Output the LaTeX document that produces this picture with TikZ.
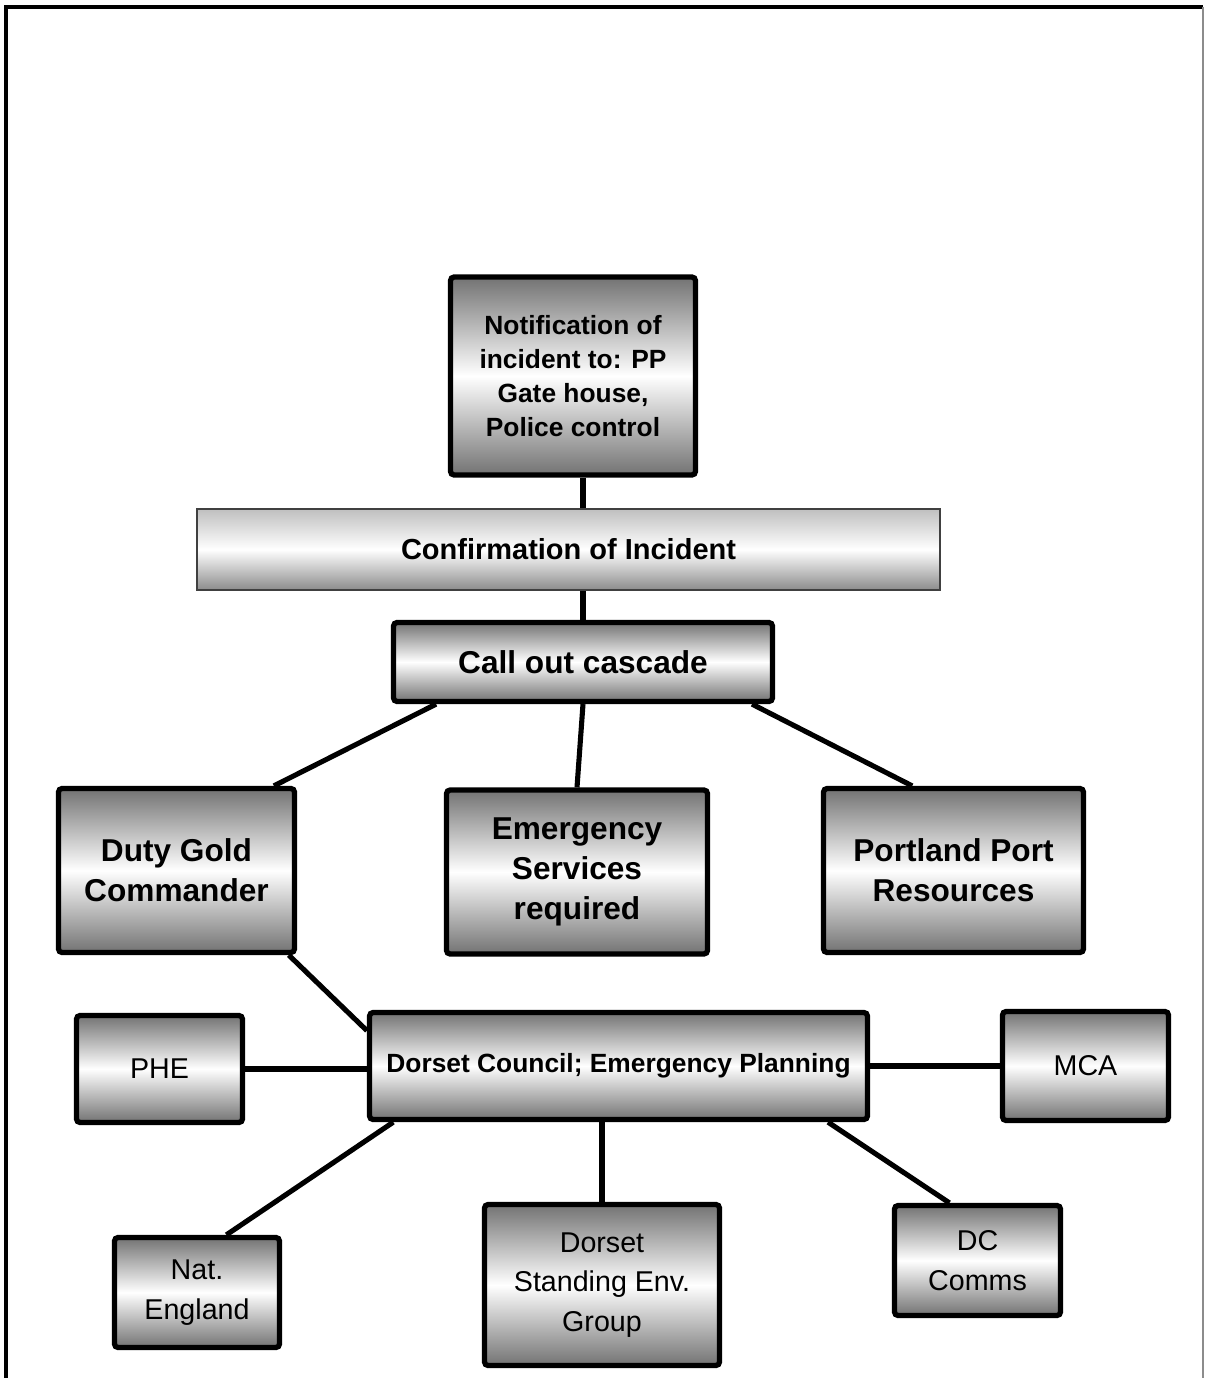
\documentclass[tikz,border=0pt]{standalone}
\usepackage{fontspec}
\setmainfont{Liberation Sans}
\usepackage{tikz}
\usetikzlibrary{calc}

\begin{document}
\begin{tikzpicture}[
  x=0.02cm, y=-0.02cm,
  box/.style={draw, line width=3pt, rounded corners=2pt, align=center, inner sep=2pt,
              top color=black!55, bottom color=black!55, middle color=white},
  bigbox/.style={box, font=\fontsize{18}{22.7}\selectfont\bfseries},
  smallbox/.style={box, font=\fontsize{16.3}{22.7}\selectfont},
  bar/.style={draw=black!75, line width=1.2pt, align=center,
              top color=black!25, bottom color=black!45, middle color=white,
              font=\fontsize{16.5}{20}\selectfont\bfseries},
  link/.style={line width=2.9pt},
]
\useasboundingbox (0,0) rectangle (1205,1378);

% frame
\draw[line width=1.8pt] (6,1378) -- (6,7) -- (1203,7);
\draw[black!45, line width=1pt] (1203,7) -- (1203,1378);

% top part
\node[box, minimum width=4.9cm, minimum height=3.96cm,
      font=\fontsize{15}{19.3}\selectfont\bfseries] (notif) at (573,376)
      {Notification of\\incident to: PP\\Gate house,\\Police control};
\node[bar, minimum width=14.86cm, minimum height=1.62cm] (conf) at (568.5,549.5)
      {Confirmation of Incident};
\node[bigbox, minimum width=7.58cm, minimum height=1.58cm] (call) at (583,662)
      {Call out cascade};

% second row
\node[bigbox, minimum width=4.72cm, minimum height=3.28cm] (duty) at (176.5,870.5)
      {Duty Gold\\Commander};
\node[bigbox, minimum width=5.22cm, minimum height=3.28cm] (emerg) at (577,872)
      {Emergency\\Services\\required};
\node[bigbox, minimum width=5.2cm, minimum height=3.28cm] (port) at (953.5,870.5)
      {Portland Port\\Resources};

% council and partners
\node[box, minimum width=9.96cm, minimum height=2.14cm,
      font=\fontsize{15}{19}\selectfont\bfseries] (dorset) at (618.5,1066)
      {Dorset Council; Emergency Planning};
\node[smallbox, minimum width=3.32cm, minimum height=2.14cm] (phe) at (159.5,1069) {PHE};
\node[smallbox, minimum width=3.32cm, minimum height=2.18cm] (mca) at (1085.5,1066) {MCA};
\node[smallbox, minimum width=3.3cm, minimum height=2.2cm] (nat) at (197,1292.5) {Nat.\\England};
\node[smallbox, minimum width=4.7cm, minimum height=3.22cm] (seg) at (602,1285)
      {Dorset\\Standing Env.\\Group};
\node[smallbox, minimum width=3.32cm, minimum height=2.2cm] (dcc) at (977.5,1260.5) {DC\\Comms};

% links
\draw[link] (call.north |- notif.south) -- (call.north |- conf.north);
\draw[link] (call.north |- conf.south) -- (call.north);
\foreach \a/\b in {call.-164/duty.41, call.south/emerg.north, call.-14/port.116,
                   duty.-37/dorset.172, dorset.-166/nat.63, dorset.-15/dcc.116}
  \draw[link] (\a) -- (\b);
\draw[link] (phe.east) -- (phe.east -| dorset.west);
\draw[link] (dorset.east) -- (dorset.east -| mca.west);
\draw[link] (seg.north |- dorset.south) -- (seg.north);
\end{tikzpicture}
\end{document}
